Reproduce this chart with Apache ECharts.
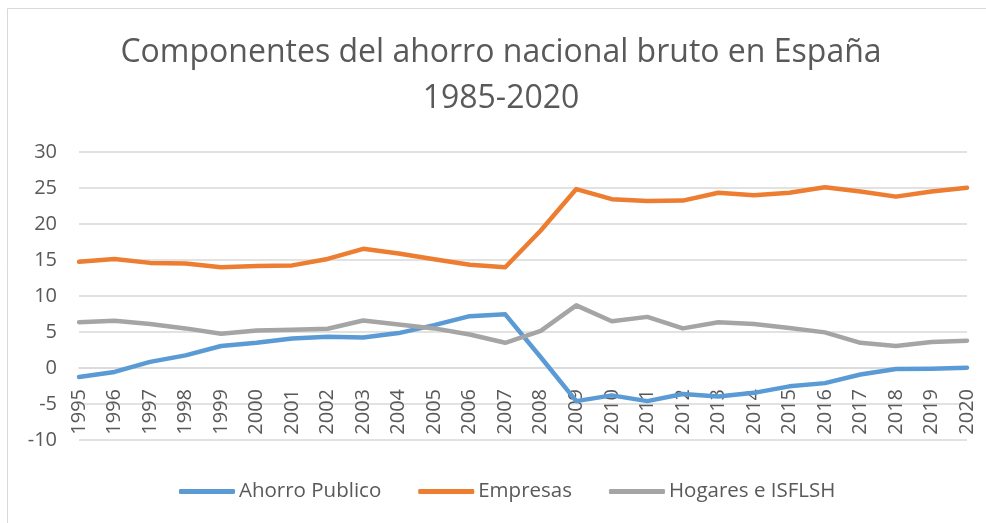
<!DOCTYPE html>
<html>
<head>
<meta charset="utf-8">
<script src="https://cdn.jsdelivr.net/npm/echarts@6/dist/echarts.min.js"></script>
<style>
    html, body { margin: 0; padding: 0; background: #fff; }
    #chart { width: 986px; height: 523px; }
</style>
</head>
<body>
<div id="chart"></div>
<script>
// años
const years = ['1995', '1996', '1997', '1998', '1999', '2000', '2001', '2002', '2003', '2004', '2005', '2006', '2007',
    '2008', '2009', '2010', '2011', '2012', '2013', '2014', '2015', '2016', '2017', '2018', '2019', '2020'];

// % del PIB
const ahorroPublico = [-1.25, -0.55, 0.85, 1.75, 3.05, 3.5, 4.1, 4.35, 4.25, 4.85, 5.95, 7.2, 7.45,
    1.5, -4.6, -3.8, -4.6, -3.6, -3.95, -3.45, -2.55, -2.1, -0.9, -0.15, -0.1, 0.05];
const empresas = [14.75, 15.15, 14.6, 14.5, 14.0, 14.15, 14.25, 15.15, 16.55, 15.9, 15.1, 14.35, 14.0,
    19.1, 24.85, 23.45, 23.2, 23.25, 24.35, 24.0, 24.35, 25.1, 24.5, 23.8, 24.5, 25.05];
const hogares = [6.35, 6.55, 6.1, 5.5, 4.75, 5.2, 5.3, 5.45, 6.6, 6.05, 5.5, 4.65, 3.5,
    5.15, 8.7, 6.5, 7.1, 5.5, 6.35, 6.1, 5.55, 4.95, 3.5, 3.05, 3.6, 3.8];

const seriesNames = ['Ahorro Publico', 'Empresas', 'Hogares e ISFLSH'];
const colors = ['#5b9bd5', '#ed7d31', '#a5a5a5'];

const font = '"Open Sans", "Noto Sans", sans-serif';
const txt = '#595959';

const myChart = echarts.init(document.getElementById('chart'));

const line = (name, data) => ({
    name: name,
    type: 'line',
    data: data,
    symbol: 'none',
    lineStyle: { width: 4.5, cap: 'round', join: 'round' }
});

const option = {
    animation: false,
    color: colors,
    // marco del gráfico
    graphic: [{
        type: 'rect',
        shape: { x: 7.5, y: 8.5, width: 1100, height: 600 },
        style: { fill: 'none', stroke: '#d9d9d9', lineWidth: 1 },
        silent: true
    }],
    title: {
        text: 'Componentes del ahorro nacional bruto en España\n1985-2020',
        left: 501,
        top: 30,
        padding: 0,
        textAlign: 'center',
        textStyle: {
            fontFamily: font,
            fontSize: 32,
            fontWeight: 'normal',
            color: txt,
            lineHeight: 46
        }
    },
    legend: {
        data: seriesNames,
        left: 179,
        top: 481,
        padding: 0,
        itemWidth: 56,
        itemHeight: 5,
        itemGap: 37,
        icon: 'roundRect',
        textStyle: { fontFamily: font, fontSize: 20.5, color: txt, padding: [0, 0, 0, -1] }
    },
    grid: {
        left: 79,
        right: 19,
        top: 152,
        bottom: 83,
        containLabel: false
    },
    xAxis: {
        type: 'category',
        data: years,
        boundaryGap: false,
        axisLine: { show: true, onZero: true, lineStyle: { color: '#d9d9d9', width: 1.5 } },
        axisTick: { show: false },
        splitLine: { show: false },
        // etiquetas colgando de la línea del 0
        axisLabel: {
            rotate: 90,
            margin: -51,
            interval: 0,
            fontFamily: font,
            fontSize: 20,
            color: txt
        }
    },
    yAxis: {
        type: 'value',
        min: -10,
        max: 30,
        interval: 5,
        axisLine: { show: false },
        axisTick: { show: false },
        splitLine: { lineStyle: { color: '#d9d9d9', width: 1.5 } },
        axisLabel: {
            margin: 22,
            fontFamily: font,
            fontSize: 20,
            color: txt
        }
    },
    series: [
        line(seriesNames[0], ahorroPublico),
        line(seriesNames[1], empresas),
        line(seriesNames[2], hogares)
    ]
};

myChart.setOption(option);
</script>
</body>
</html>
